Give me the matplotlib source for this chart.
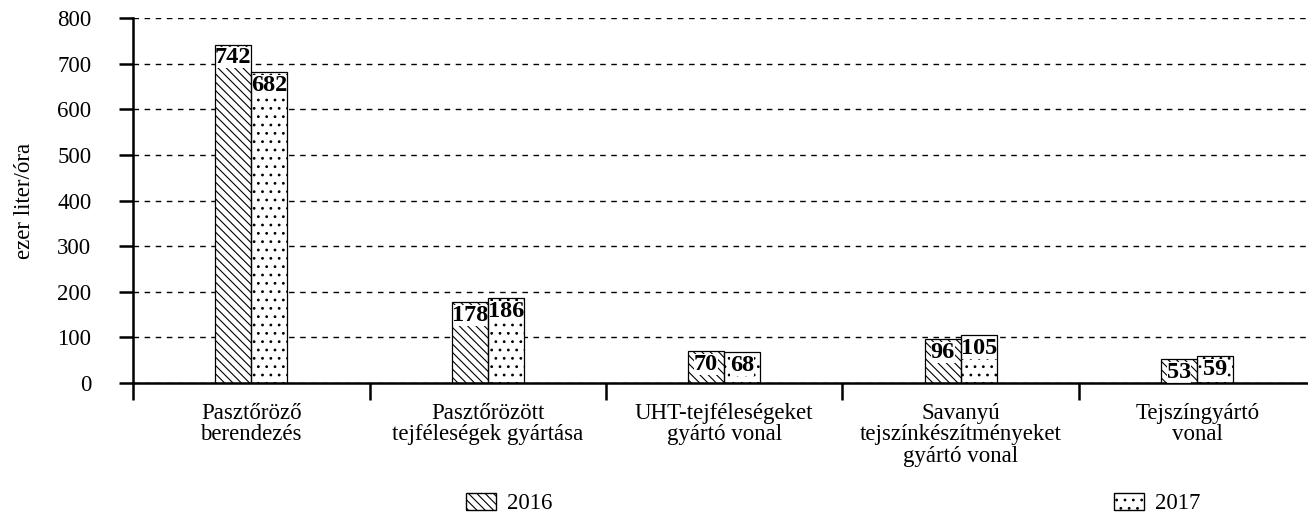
import numpy as np
import matplotlib.pyplot as plt
from matplotlib.patches import Patch

plt.rcParams['font.family'] = ['Liberation Serif', 'DejaVu Serif']
plt.rcParams['hatch.linewidth'] = 0.8

categories = ["Pasztőröző\nberendezés",
              "Pasztőrözött\ntejféleségek gyártása",
              "UHT-tejféleségeket\ngyártó vonal",
              "Savanyú\ntejszínkészítményeket\ngyártó vonal",
              "Tejszíngyártó\nvonal"]
vals_2016 = [742, 178, 70, 96, 53]
vals_2017 = [682, 186, 68, 105, 59]
series_names = ["2016", "2017"]

fs = 16.5

fig = plt.figure(figsize=(13.08, 5.17), dpi=100)
ax = fig.add_axes([0.1017, 0.259, 0.904, 0.706])

x = np.arange(len(categories))
w = 0.153
hatches = ['\\\\\\\\', '..']
offsets = [-w / 2, w / 2]
for vals, h, off in zip([vals_2016, vals_2017], hatches, offsets):
    ax.bar(x + off, vals, w, color='white', edgecolor='black', hatch=h,
           linewidth=0, zorder=2)
    for xi, v in zip(x + off, vals):
        ax.text(xi, v - 6, str(v), ha='center', va='top', fontsize=17.5,
                fontweight='bold', zorder=3,
                bbox=dict(facecolor='white', edgecolor='none', pad=0.0))
    # outlines on top of the labels
    ax.bar(x + off, vals, w, fill=False, edgecolor='black', linewidth=0.9, zorder=4)

ax.set_xlim(-0.5, len(categories) - 0.5)
ax.set_ylim(0, 800)
ax.set_yticks(range(0, 801, 100))
ax.yaxis.grid(True, linestyle=(0, (4, 4)), color='black', linewidth=1.0)
ax.set_axisbelow(True)
ax.tick_params(axis='y', labelsize=fs, length=10, width=1.8, direction='out', pad=20)
ax.set_xticks(x)
ax.set_xticklabels(categories, fontsize=fs, va='top', linespacing=1.05)
ax.tick_params(axis='x', length=0, pad=14)
ax.set_xticks(np.arange(-0.5, len(categories)), minor=True)
ax.tick_params(axis='x', which='minor', length=12, width=1.8)
for s in ['top', 'right']:
    ax.spines[s].set_visible(False)
ax.spines['left'].set_linewidth(1.8)
ax.spines['bottom'].set_linewidth(1.8)
ax.set_ylabel("ezer liter/óra", fontsize=fs, labelpad=16)

handles = [Patch(facecolor='white', edgecolor='black', hatch='\\\\\\\\'),
           Patch(facecolor='white', edgecolor='black', hatch='..')]
fig.legend(handles, series_names, loc='lower center', bbox_to_anchor=(0.637, -0.035),
           ncol=2, frameon=False, fontsize=fs, columnspacing=24.5,
           handlelength=1.3, handleheight=0.8, handletextpad=0.5)

fig.savefig("out.png", dpi=100)
